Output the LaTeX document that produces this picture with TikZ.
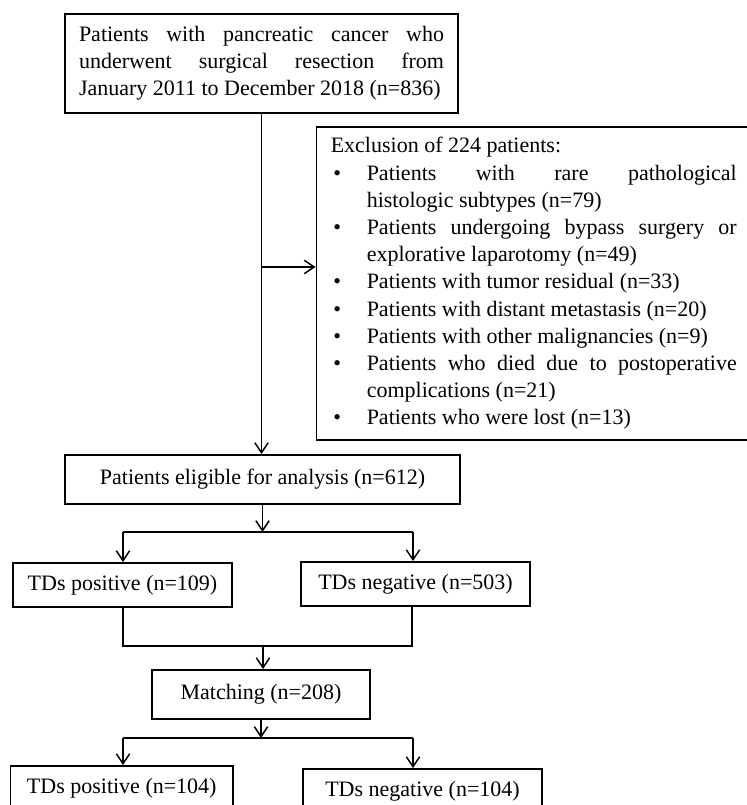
\documentclass[tikz,border=0pt]{standalone}
\usepackage{fontspec}
\setmainfont{Liberation Serif}
\usepackage{enumitem}
\usetikzlibrary{arrows.meta}

\begin{document}
\begin{tikzpicture}[x=0.75pt, y=-0.75pt,
	box/.style = {draw, line width=1.4pt, inner sep=0pt, font=\fontsize{16.5}{20.4}\selectfont},
	link/.style = {line width=1.1pt, -{Straight Barb[length=7.5pt,width=10pt,line width=1.1pt]}},
	plain/.style = {line width=1.1pt}]
	\useasboundingbox (0,0) rectangle (746,805);

	% boxes
	\node[box, minimum width=294.75pt, minimum height=74.25pt, text width=273.75pt, align=justify] (start) at (261.5,63.5)
		{Patients with pancreatic cancer who\linebreak underwent surgical resection from\linebreak January 2011 to December 2018 (n=836)};
	\node[box, minimum width=325.9pt, minimum height=234.75pt] (excl) at (533.75,283.5)
		{\begin{minipage}{304.5pt}
		Exclusion of 224 patients:
		\begin{itemize}[label=\textbullet, nosep, leftmargin=27pt, labelwidth=25pt, labelsep=0pt, align=left]
			\item Patients with rare pathological\linebreak histologic subtypes (n=79)
			\item Patients undergoing bypass surgery or\linebreak explorative laparotomy (n=49)
			\item Patients with tumor residual (n=33)
			\item Patients with distant metastasis (n=20)
			\item Patients with other malignancies (n=9)
			\item Patients who died due to postoperative\linebreak complications (n=21)
			\item Patients who were lost (n=13)
		\end{itemize}
		\end{minipage}};
	\node[box, minimum width=296.25pt, minimum height=36.75pt] (elig) at (262.5,479.5) {Patients eligible for analysis (n=612)};
	\node[box, minimum width=164.25pt, minimum height=33pt] (posA) at (122.5,585) {TDs positive (n=109)};
	\node[box, minimum width=171.75pt, minimum height=33pt] (negA) at (415.5,584) {TDs negative (n=503)};
	\node[box, minimum width=163.5pt, minimum height=36.75pt] (match) at (261,694.5) {Matching (n=208)};
	\node[box, minimum width=166.9pt, minimum height=33.75pt] (posB) at (121.75,788.5) {TDs positive (n=104)};
	\node[box, minimum width=179.25pt, minimum height=33.75pt] (negB) at (422.5,791.5) {TDs negative (n=104)};

	% junctions
	\coordinate (ex) at (262,267);
	\coordinate (splitA) at (263,532);
	\coordinate (splitAl) at (123,532);
	\coordinate (splitAr) at (413,532);
	\coordinate (join) at (263,646);
	\coordinate (joinl) at (123,646);
	\coordinate (joinr) at (412,646);
	\coordinate (splitB) at (262,738);
	\coordinate (splitBl) at (123,738);
	\coordinate (splitBr) at (413,738);

	% connectors
	\draw[link] (start.south) -- (start.south |- elig.north);
	\draw[link] (ex) -- (ex -| excl.west);
	\draw[link] (elig.south) -- (elig.south |- splitA);
	\draw[plain] (splitAl) -- (splitAr);
	\draw[link] (splitAl) -- (splitAl |- posA.north);
	\draw[link] (splitAr) -- (splitAr |- negA.north);
	\draw[plain] (joinl |- posA.south) -- (joinl) -- (joinr) -- (joinr |- negA.south);
	\draw[link] (join) -- (join |- match.north);
	\draw[link] (match.south) -- (match.south |- splitB);
	\draw[plain] (splitBl) -- (splitBr);
	\draw[link] (splitBl) -- (splitBl |- posB.north);
	\draw[link] (splitBr) -- (splitBr |- negB.north);
\end{tikzpicture}
\end{document}
